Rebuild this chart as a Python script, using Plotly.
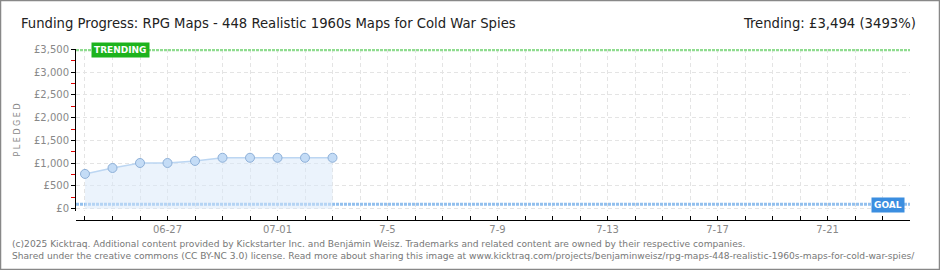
import plotly.graph_objects as go

# ---- data ----
dates = ["2025-06-24", "2025-06-25", "2025-06-26", "2025-06-27", "2025-06-28",
         "2025-06-29", "2025-06-30", "2025-07-01", "2025-07-02", "2025-07-03"]
pledged = [765, 895, 1005, 1005, 1050, 1120, 1120, 1120, 1120, 1120]
trending_value = 3494
goal_value = 100
x_start = "2025-06-23 16:09"
x_end = "2025-07-24"
tick_dates = ["2025-06-%02d" % d for d in range(24, 31)] + ["2025-07-%02d" % d for d in range(1, 25)]
tick_label_map = {"2025-06-27": "06-27", "2025-07-01": "07-01", "2025-07-05": "7-5",
                  "2025-07-09": "7-9", "2025-07-13": "7-13", "2025-07-17": "7-17",
                  "2025-07-21": "7-21"}
y_ticks = [0, 500, 1000, 1500, 2000, 2500, 3000, 3500]
y_ticktext = ["£0", "£500", "£1,000", "£1,500", "£2,000", "£2,500", "£3,000", "£3,500"]

title_text = "Funding Progress: RPG Maps - 448 Realistic 1960s Maps for Cold War Spies"
trend_text = "Trending: £3,494 (3493%)"
footer1 = ("(c)2025 Kicktraq. Additional content provided by Kickstarter Inc. and Benjámin Weisz. "
           "Trademarks and related content are owned by their respective companies.")
footer2 = ("Shared under the creative commons (CC BY-NC 3.0) license. Read more about sharing this image at "
           "www.kicktraq.com/projects/benjaminweisz/rpg-maps-448-realistic-1960s-maps-for-cold-war-spies/")

W, H = 940, 270
L, R, T, B = 76, 30, 49, 50
PW, PH = W - L - R, H - T - B


def px(xp):
    return (xp - L) / PW


def py(yp):
    return (H - B - yp) / PH


fig = go.Figure()

# trending line
fig.add_trace(go.Scatter(x=[x_start, x_end], y=[trending_value, trending_value], mode="lines",
                         line=dict(color="#8fdc8f", width=3, dash="3px,1px"),
                         hoverinfo="skip", showlegend=False))
# goal line
fig.add_trace(go.Scatter(x=[x_start, x_end], y=[goal_value, goal_value], mode="lines",
                         line=dict(color="#92c0ee", width=3, dash="3px,1px"),
                         hoverinfo="skip", showlegend=False))
# pledged
fig.add_trace(go.Scatter(x=dates, y=pledged, mode="lines+markers", fill="tozeroy",
                         fillcolor="rgba(215,232,250,0.5)",
                         line=dict(color="#bcd6f2", width=1.5),
                         marker=dict(size=9, color="#c4dcf6", line=dict(color="#8eb0d8", width=1)),
                         showlegend=False))

ticktext = [tick_label_map.get(d, "") for d in tick_dates]

fig.update_layout(
    width=W, height=H,
    margin=dict(l=L, r=R, t=T, b=B),
    paper_bgcolor="white", plot_bgcolor="white",
    font=dict(family="DejaVu Sans", size=10, color="#888"),
    xaxis=dict(type="date", range=[x_start, x_end], anchor="free", position=0,
               tickvals=tick_dates, ticktext=ticktext, ticks="inside", ticklen=4,
               tickcolor="black", tickwidth=1,
               showline=True, linecolor="black", linewidth=1,
               showgrid=True, gridcolor="#e4e4e4", griddash="4px,3px", gridwidth=1,
               zeroline=False, tickfont=dict(size=10, color="#888")),
    yaxis=dict(range=[-50, 3510], domain=[py(211), 1], tickvals=y_ticks, ticktext=y_ticktext,
               ticks="outside", ticklen=4,
               tickcolor="black", showline=True, linecolor="black", linewidth=1,
               showgrid=True, gridcolor="#e4e4e4", griddash="4px,3px", zeroline=False,
               minor=dict(dtick=250, ticks="outside", ticklen=4, tickcolor="#e00000", showgrid=False),
               tickfont=dict(size=10, color="#888"),
               title=dict(text="P L E D G E D", font=dict(size=8, color="#888"), standoff=12)),
)

tfont = "DejaVu Sans Condensed, Liberation Sans Narrow, DejaVu Sans"
ann = []
ann.append(dict(xref="paper", yref="paper", x=px(19), y=py(23), xanchor="left", yanchor="middle",
                text=title_text, showarrow=False,
                font=dict(family=tfont, size=14.7, color="#222")))
ann.append(dict(xref="paper", yref="paper", x=px(918), y=py(23), xanchor="right", yanchor="middle",
                text=trend_text, showarrow=False,
                font=dict(family=tfont, size=14.7, color="#222")))
ann.append(dict(xref="paper", yref="paper", x=px(10), y=py(244), xanchor="left", yanchor="middle",
                text=footer1, showarrow=False, font=dict(family="DejaVu Sans", size=9.1, color="#777")))
ann.append(dict(xref="paper", yref="paper", x=px(10), y=py(256), xanchor="left", yanchor="middle",
                text=footer2, showarrow=False, font=dict(family="DejaVu Sans", size=9.1, color="#777")))
ann.append(dict(xref="paper", yref="paper", x=px(120.5), y=py(50), xanchor="center", yanchor="middle",
                text="<b>TRENDING</b>", showarrow=False, bgcolor="#1db31d", borderpad=2,
                font=dict(family="DejaVu Sans", size=9, color="white")))
ann.append(dict(xref="paper", yref="paper", x=px(888), y=py(205), xanchor="center", yanchor="middle",
                text="<b>GOAL</b>", showarrow=False, bgcolor="#3b8ee0", borderpad=2,
                font=dict(family="DejaVu Sans", size=9, color="white")))
fig.update_layout(annotations=ann)

fig.add_shape(type="rect", xref="paper", yref="paper", x0=px(0.5), x1=px(W - 0.5),
              y0=py(H - 0.5), y1=py(0.5), line=dict(color="#888", width=1.5), layer="above")

fig.write_html("out.html")
